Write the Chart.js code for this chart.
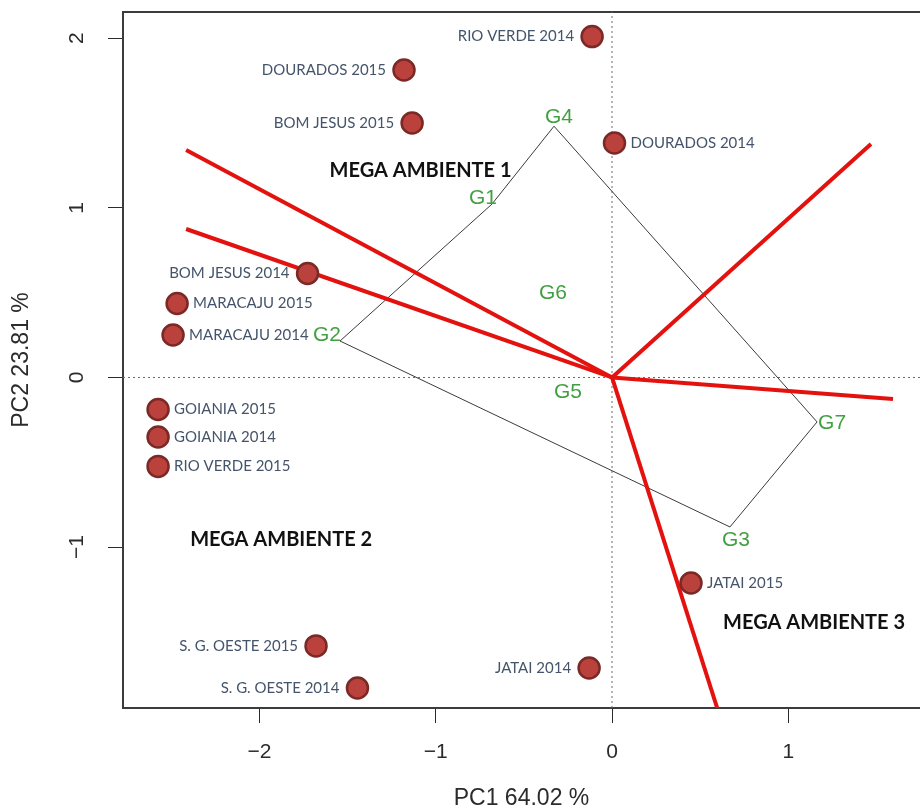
<!DOCTYPE html>
<html>
<head>
<meta charset="utf-8">
<script src="https://cdn.jsdelivr.net/npm/chart.js@4.4.1/dist/chart.umd.min.js"></script>
<style>
  html, body { margin: 0; padding: 0; background: #ffffff; overflow: hidden; }
  canvas { display: block; }
</style>
</head>
<body>
<canvas id="biplot" width="920" height="812"></canvas>
<script>
// ---- Environment scores (PC1, PC2) ----
const envNames = [
  'RIO VERDE 2014', 'DOURADOS 2015', 'BOM JESUS 2015', 'DOURADOS 2014',
  'BOM JESUS 2014', 'MARACAJU 2015', 'MARACAJU 2014', 'GOIANIA 2015',
  'GOIANIA 2014', 'RIO VERDE 2015', 'S. G. OESTE 2015', 'S. G. OESTE 2014',
  'JATAI 2015', 'JATAI 2014'
];
const envPC1 = [-0.113, -1.180, -1.134, 0.014, -1.727, -2.467, -2.490, -2.575, -2.575, -2.575, -1.679, -1.444, 0.448, -0.130];
const envPC2 = [2.009, 1.812, 1.500, 1.382, 0.613, 0.436, 0.250, -0.189, -0.351, -0.524, -1.582, -1.830, -1.211, -1.712];

// ---- Genotype scores (PC1, PC2) ----
const genoNames = ['G1', 'G2', 'G3', 'G4', 'G5', 'G6', 'G7'];
const genoPC1 = [-0.681, -1.543, 0.669, -0.329, -0.250, -0.335, 1.163];
const genoPC2 = [1.022, 0.215, -0.881, 1.481, -0.085, 0.498, -0.262];

// Vertices of the "which-won-where" polygon, in drawing order
const hullOrder = ['G4', 'G7', 'G3', 'G2', 'G1', 'G4'];

// Sector rays from the origin, perpendicular to the polygon sides (end points)
const rayPC1 = [-2.416, -2.416, 1.469, 1.594, 0.643];
const rayPC2 = [1.341, 0.875, 1.376, -0.127, -2.100];

// Mega-environment annotations
const megaNames = ['MEGA AMBIENTE 1', 'MEGA AMBIENTE 2', 'MEGA AMBIENTE 3'];
const megaPC1 = [-1.086, -1.877, 1.146];
const megaPC2 = [1.217, -0.955, -1.446];

// Axes
const xTicks = [-2, -1, 0, 1];
const yTicks = [-1, 0, 1, 2];
const xTitle = 'PC1 64.02 %';
const yTitle = 'PC2 23.81 %';
const xRange = [-2.774, 1.747];
const yRange = [-1.948, 2.154];

// ---- label placement / styling ----
const envLabelSide = ['left', 'left', 'left', 'right', 'left', 'right', 'right',
                      'right', 'right', 'right', 'left', 'left', 'right', 'left'];
const genoLabelDx = [-9, -13, 6, 5, 0, 0, 15];
const genoLabelDy = [-6, -6, 13, -9, 0, 0, 1];

const AXIS_FONT = 'Liberation Sans, Arial, sans-serif';
const LABEL_FONT = 'Lato, Carlito, sans-serif';
const INK = '#2b2b2b';

const minus = v => (v < 0 ? '\u2212' + Math.abs(v) : String(v));

// keep the plot frame exactly where the axis boxes put it
const noPadding = s => { s.paddingLeft = s.paddingRight = s.paddingTop = s.paddingBottom = 0; };

// ---- datasets ----
const envPoints = envNames.map((n, i) => ({ x: envPC1[i], y: envPC2[i] }));
const genoPoints = genoNames.map((n, i) => ({ x: genoPC1[i], y: genoPC2[i] }));
const hullPoints = hullOrder.map(g => genoPoints[genoNames.indexOf(g)]);

const datasets = [];
// reference lines through the origin
datasets.push({
  data: [{ x: xRange[0], y: 0 }, { x: xRange[1], y: 0 }],
  showLine: true, pointRadius: 0, borderColor: '#6a6a6a', borderWidth: 1,
  borderDash: [2, 3], order: 4
});
datasets.push({
  data: [{ x: 0, y: yRange[0] }, { x: 0, y: yRange[1] }],
  showLine: true, pointRadius: 0, borderColor: '#6a6a6a', borderWidth: 1,
  borderDash: [2, 3], order: 4
});
// polygon
datasets.push({
  data: hullPoints, showLine: true, pointRadius: 0, borderColor: '#3a3a3a',
  borderWidth: 1, tension: 0, order: 3
});
// sector rays
rayPC1.forEach((x, i) => {
  datasets.push({
    data: [{ x: 0, y: 0 }, { x: x, y: rayPC2[i] }],
    showLine: true, pointRadius: 0, borderColor: '#e3120f', borderWidth: 4,
    borderCapStyle: 'butt', clip: 0, order: 2
  });
});
// genotypes (labels only)
const GENO_INDEX = datasets.length;
datasets.push({ data: genoPoints, pointRadius: 0, showLine: false, order: 1 });
// environments
const ENV_INDEX = datasets.length;
datasets.push({
  data: envPoints, showLine: false, pointRadius: 10.5, pointHoverRadius: 10.5,
  backgroundColor: '#bb423c', borderColor: '#7a2926', borderWidth: 2.5, order: 0
});

const labelPlugin = {
  id: 'biplotLabels',
  afterDatasetsDraw(chart) {
    const ctx = chart.ctx;
    const xs = chart.scales.x, ys = chart.scales.y;
    ctx.save();
    ctx.textBaseline = 'middle';

    // environment names
    ctx.font = '15px ' + LABEL_FONT;
    ctx.fillStyle = '#44546a';
    chart.getDatasetMeta(ENV_INDEX).data.forEach((pt, i) => {
      const left = envLabelSide[i] === 'left';
      ctx.textAlign = left ? 'right' : 'left';
      ctx.fillText(envNames[i], pt.x + (left ? -18 : 16), pt.y);
    });

    // genotype names
    ctx.font = '21px ' + AXIS_FONT;
    ctx.fillStyle = '#41a041';
    ctx.textAlign = 'center';
    chart.getDatasetMeta(GENO_INDEX).data.forEach((pt, i) => {
      ctx.fillText(genoNames[i], pt.x + genoLabelDx[i], pt.y + genoLabelDy[i]);
    });

    // mega-environment annotations
    ctx.font = 'bold 20px ' + LABEL_FONT;
    ctx.fillStyle = '#111111';
    megaNames.forEach((t, i) => {
      ctx.fillText(t, xs.getPixelForValue(megaPC1[i]), ys.getPixelForValue(megaPC2[i]));
    });
    ctx.restore();
  }
};

new Chart(document.getElementById('biplot'), {
  type: 'scatter',
  data: { datasets },
  plugins: [labelPlugin],
  options: {
    responsive: false,
    animation: false,
    events: [],
    layout: { autoPadding: false, padding: { top: 12, left: 0, right: 0, bottom: 0 } },
    plugins: { legend: { display: false }, tooltip: { enabled: false } },
    scales: {
      x: {
        type: 'linear', position: 'bottom', min: xRange[0], max: xRange[1],
        afterBuildTicks: s => { s.ticks = xTicks.map(v => ({ value: v })); },
        afterFit: s => { s.height = 104; noPadding(s); },
        ticks: { callback: minus, color: INK, padding: 17, maxRotation: 0,
                 font: { family: AXIS_FONT, size: 21 } },
        grid: { display: true, drawOnChartArea: false, drawTicks: true,
                tickLength: 15, color: INK, lineWidth: 1 },
        border: { display: true, color: '#3c3c3c', width: 2 },
        title: { display: true, text: xTitle, color: INK, padding: { top: 0, bottom: 0 },
                 font: { family: AXIS_FONT, size: 23 } }
      },
      xTop: {
        type: 'linear', position: 'top', min: xRange[0], max: xRange[1],
        afterFit: s => { s.height = 0; noPadding(s); },
        ticks: { display: false },
        grid: { display: false, drawTicks: false },
        border: { display: true, color: '#3c3c3c', width: 2 }
      },
      y: {
        type: 'linear', position: 'left', min: yRange[0], max: yRange[1],
        afterBuildTicks: s => { s.ticks = yTicks.map(v => ({ value: v })); },
        afterFit: s => { s.width = 123; noPadding(s); },
        ticks: { callback: minus, color: INK, padding: 19, minRotation: 90, maxRotation: 90,
                 crossAlign: 'center', font: { family: AXIS_FONT, size: 21 } },
        grid: { display: true, drawOnChartArea: false, drawTicks: true,
                tickLength: 15, color: INK, lineWidth: 1 },
        border: { display: true, color: '#3c3c3c', width: 2 },
        title: { display: true, text: yTitle, color: INK, padding: { top: 8, bottom: 0 },
                 font: { family: AXIS_FONT, size: 23 } }
      }
    }
  }
});
</script>
</body>
</html>
